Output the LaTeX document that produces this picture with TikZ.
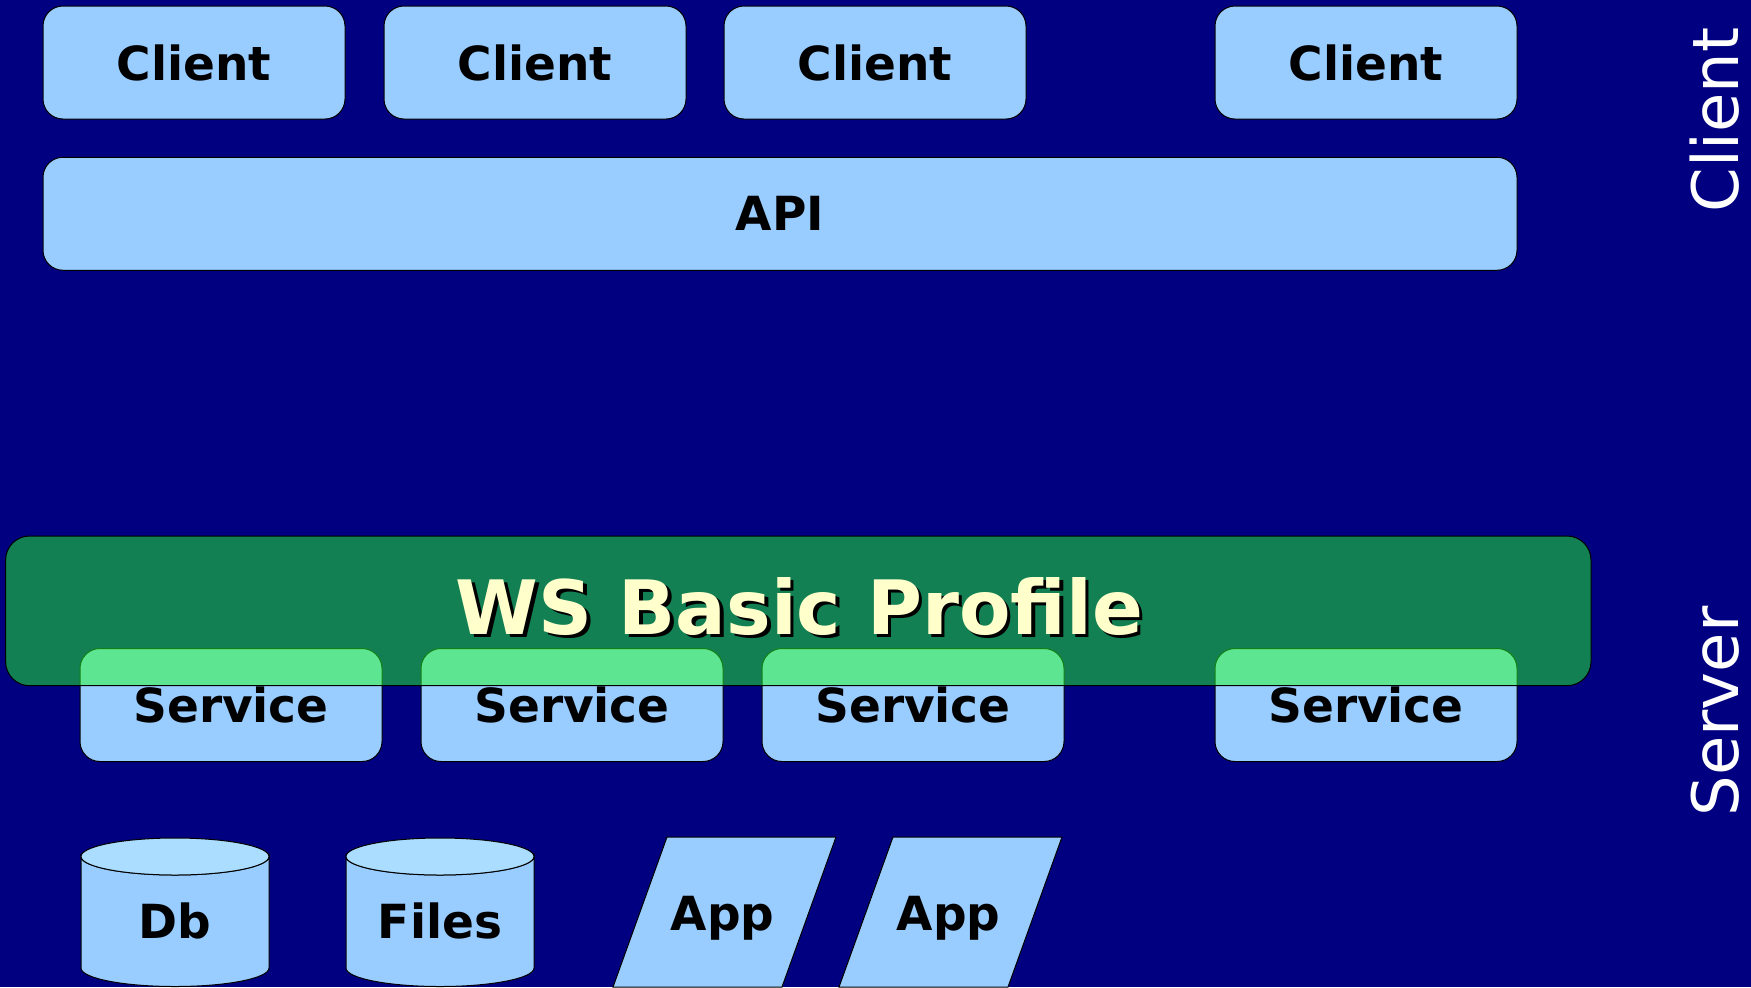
\documentclass[tikz,border=0pt]{standalone}
\usepackage{fontspec}
\setmainfont{DejaVu Sans}
\usetikzlibrary{positioning}
\definecolor{bg}{RGB}{0,0,128}
\definecolor{bx}{RGB}{153,204,255}
\definecolor{bxtop}{RGB}{170,221,255}
\definecolor{wsg}{RGB}{36,255,38}
\definecolor{wst}{RGB}{255,255,204}
\tikzset{
  box/.style={
    draw=black,
    line width=0.5pt,
    fill=bx,
    rounded corners=10pt,
    minimum width=151pt,
    minimum height=56.5pt,
    inner sep=0pt,
    font=\fontsize{23.5pt}{28pt}\selectfont\bfseries
  },
  lbl/.style={
    inner sep=0pt,
    font=\fontsize{23.5pt}{28pt}\selectfont\bfseries
  },
  side/.style={
    rotate=90,
    anchor=base,
    inner sep=0pt,
    text=white,
    font=\fontsize{32pt}{36pt}\selectfont
  }
}

\begin{document}
\begin{tikzpicture}[x=0.5pt,y=-0.5pt]
\fill[bg] (0,0) rectangle (1751,987);
\useasboundingbox (0,0) rectangle (1751,987);
\foreach [count = \i] \x/\s in {194/231, 535/572, 875/913, 1366/1366}{
\node[box] (c\i) at (\x, 62.5) {Client};
\node[box] (s\i) at (\s, 705) {Service};
}
\node[box, minimum width=737pt] (api) at (780, 213.75) {API};
\node[draw=black, line width=0.5pt, fill=wsg, fill opacity=0.5, rounded corners=12pt,
      minimum width=792.7pt, minimum height=74.85pt] (ws) at (798.3, 610.85) {};
\node[lbl, font=\fontsize{37.5pt}{42pt}\selectfont\bfseries, text=black] (wsshadow) at (803, 610) {WS Basic Profile};
\node[lbl, font=\fontsize{37.5pt}{42pt}\selectfont\bfseries, text=wst] (wstitle) at (799.5, 606.5) {WS Basic Profile};
% stores
\foreach \n/\cx/\t in {db/175/Db, files/440/Files}{
\fill[bx, draw=black, line width=0.5pt] (\cx-94, 856.5) -- (\cx-94, 968)
  arc[start angle=180, end angle=0, x radius=94, y radius=18.5] -- (\cx+94, 856.5)
  arc[start angle=0, end angle=180, x radius=94, y radius=18.5] -- cycle;
\draw[fill=bxtop, line width=0.5pt] (\cx, 856.5) ellipse [x radius=94, y radius=18.5];
\node[lbl] (\n) at (\cx, 921) {\t};
}
\foreach [count = \i] \x in {667, 893}{
\fill[bx, draw=black, line width=0.5pt] (\x, 837) -- ++(169, 0) -- ++(-54, 150) -- ++(-169, 0) -- cycle;
\node[lbl] (app\i) at (\x+55.5, 918) {App};
}
\node[side] (clientside) at (1738, 120) {Client};
\node[side] (serverside) at (1738, 711.5) {Server};
\end{tikzpicture}
\end{document}
